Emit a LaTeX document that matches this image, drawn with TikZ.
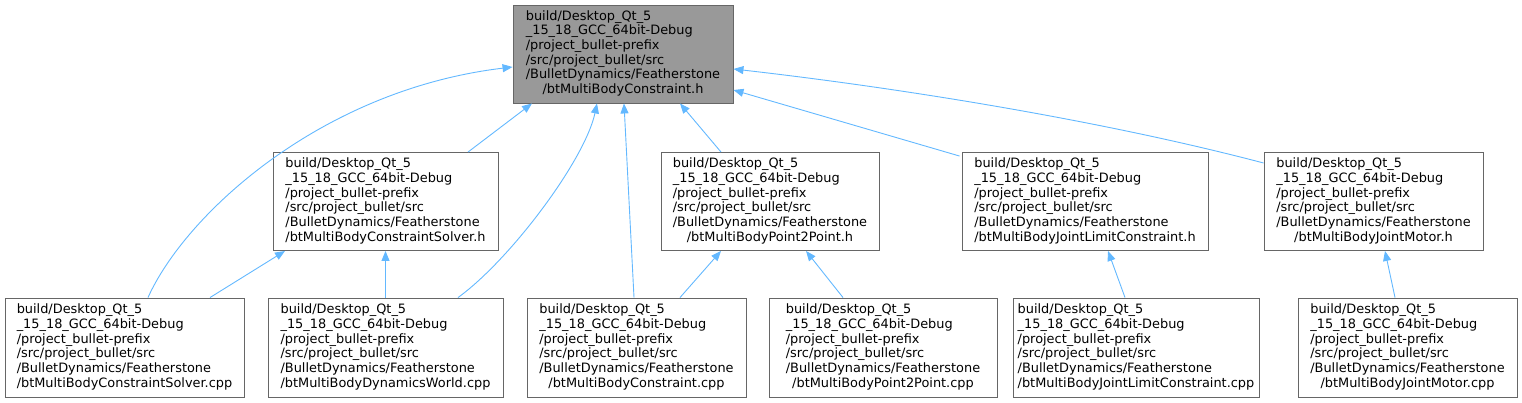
\documentclass[tikz,border=0pt]{standalone}
\usepackage{fontspec}
\setmainfont{DejaVu Sans}
\usetikzlibrary{arrows.meta}
\definecolor{edgeblue}{HTML}{63B8FF}
\definecolor{boxborder}{HTML}{666666}
\definecolor{topfill}{HTML}{999999}
\newcommand\fl[2]{\begin{tabular}{@{}l@{}}build/Desktop\_Qt\_5\\\_15\_18\_GCC\_64bit-Debug\\/project\_bullet-prefix\\/src/project\_bullet/src\\/BulletDynamics/Featherstone\\#1{#2}\end{tabular}}
\newcommand\lastc[1]{\multicolumn{1}{@{}c@{}}{#1}}
\newcommand\lastl[1]{#1}
\begin{document}
\begin{tikzpicture}[x=1pt,y=-1pt,
  filebox/.style={draw=boxborder,line width=0.9pt,fill=white,inner sep=0pt,
    font=\fontsize{12.9}{14.7}\selectfont},
  dep/.style={draw=edgeblue,line width=0.9pt,-{Triangle[length=10pt,width=8pt]}}]
\useasboundingbox (0,0) rectangle (1522,403);
\node[filebox,fill=topfill,minimum width=220pt,minimum height=98pt] (top) at (623,54) {\fl\lastc{/btMultiBodyConstraint.h}};
\node[filebox,minimum width=225pt,minimum height=98pt] (solh) at (385.5,201.5) {\fl\lastl{/btMultiBodyConstraintSolver.h}};
\node[filebox,minimum width=218pt,minimum height=98pt] (p2ph) at (770,201.5) {\fl\lastc{/btMultiBodyPoint2Point.h}};
\node[filebox,minimum width=246pt,minimum height=98pt] (jlch) at (1085,201.5) {\fl\lastl{/btMultiBodyJointLimitConstraint.h}};
\node[filebox,minimum width=219pt,minimum height=98pt] (jmh) at (1373.5,201.5) {\fl\lastc{/btMultiBodyJointMotor.h}};
\node[filebox,minimum width=239pt,minimum height=99pt] (solcpp) at (124.5,347.5) {\fl\lastl{/btMultiBodyConstraintSolver.cpp}};
\node[filebox,minimum width=235pt,minimum height=99pt] (dwcpp) at (385.5,347.5) {\fl\lastl{/btMultiBodyDynamicsWorld.cpp}};
\node[filebox,minimum width=219pt,minimum height=99pt] (ccpp) at (636.5,347.5) {\fl\lastc{/btMultiBodyConstraint.cpp}};
\node[filebox,minimum width=228pt,minimum height=99pt] (p2pcpp) at (883,347.5) {\fl\lastc{/btMultiBodyPoint2Point.cpp}};
\node[filebox,minimum width=246pt,minimum height=99pt] (jlccpp) at (1136,347.5) {\fl\lastl{/btMultiBodyJointLimitConstraint.cpp}};
\node[filebox,minimum width=219pt,minimum height=99pt] (jmcpp) at (1407.5,347.5) {\fl\lastc{/btMultiBodyJointMotor.cpp}};
% edges
\draw[dep] ([xshift=23.5pt]solcpp.north) .. controls (185,215) and (320,90) .. ([yshift=-13pt]top.west);
\draw[dep] ([xshift=82.5pt]solh.north) -- ([xshift=-91pt]top.south);
\draw[dep] ([xshift=85.5pt]solcpp.north) -- ([xshift=-100.5pt]solh.south);
\draw[dep] (dwcpp.north) -- (solh.south);
\draw[dep] ([xshift=72.5pt]dwcpp.north) .. controls (510,260) and (585,160) .. ([xshift=-26pt]top.south);
\draw[dep] ([xshift=-2.5pt]ccpp.north) -- ([xshift=1pt]top.south);
\draw[dep] ([xshift=-49pt]p2ph.north) -- ([xshift=57pt]top.south);
\draw[dep] ([xshift=-40pt]p2pcpp.north) -- ([xshift=36pt]p2ph.south);
\draw[dep] ([xshift=43.5pt]ccpp.north) -- ([xshift=-49pt]p2ph.south);
\draw[dep] ([xshift=-2pt,yshift=-4pt]jlch.north west) -- ([yshift=-36pt]top.east);
\draw[dep] ([yshift=38.5pt]jmh.west) .. controls (1100,120) and (900,88) .. ([yshift=-15pt]top.east);
\draw[dep] ([xshift=-11pt]jlccpp.north) -- ([xshift=23pt]jlch.south);
\draw[dep] ([xshift=-12.5pt]jmcpp.north) -- ([xshift=11.5pt]jmh.south);
\end{tikzpicture}
\end{document}
